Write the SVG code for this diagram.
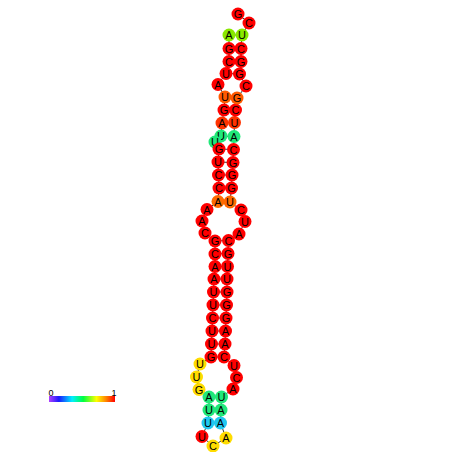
<svg xmlns="http://www.w3.org/2000/svg" width="452" height="452" viewBox="0 0 452 452">
<style>
.b{fill:none;stroke:#000;stroke-width:0.8}
.p{stroke:#000;stroke-width:0.8}
circle{r:6.5}
.r{fill:#ff0000}.o{fill:#ff5a00}.or{fill:#ff3300}.og{fill:#ff6a00}.l{fill:#8ae800}.g{fill:#20e87a}.c{fill:#20c8f0}.y{fill:#ffdc00}
text{font-family:"Liberation Sans",Arial,sans-serif;font-size:11px;text-anchor:middle;fill:#000}
.lg{font-size:9px}
</style>
<defs>
<linearGradient id="grad" x1="0" y1="0" x2="1" y2="0">
<stop offset="0" stop-color="#b040ff"/>
<stop offset="0.15" stop-color="#1a1aff"/>
<stop offset="0.35" stop-color="#00eeff"/>
<stop offset="0.52" stop-color="#00ff40"/>
<stop offset="0.72" stop-color="#ffff00"/>
<stop offset="0.86" stop-color="#ff8800"/>
<stop offset="1" stop-color="#ff0000"/>
</linearGradient>
</defs>
<rect width="452" height="452" fill="#fff"/>
<g id="connectors">
<polyline class="b" points="229,35 229,48.5 229,61.5 226,73.5 218,84.5 225,97 224,110 222,123 221,136 215,142 219,149 218,162 218.5,175 219,188 218,201.5 207,209.5 202,221 205,233 215,241 215,254 215,266.5 214,279 213.5,292 213,305 212.5,318 212,331 211.5,344 211,357 200,364 196.5,377 199,389.5 209,397 209,410 208,423 202,436.5 213,446 226,438 220.5,423 221,410 221.5,397 233,389 236.5,377.5 234,365.5 224,357 225,344 225.5,331 226,318 226.5,305 227,292 227,279 227.5,266.5 228,253.5 228.5,240.5 239,234 245,221.5 241,210 230,202 231.5,188 232,175 233,162.5 233.5,149.5 234,136.5 234.5,122.5 235.5,110 237,98 246,86 239.5,74 241,61.5 241,48.5 242,35 249,23 238,14"/>
<path class="p" d="M229,35H242M229,48.5H241M229,61.5H241M226,73.5L239.5,74M225,97L237,98M224,110L235.5,110M222,123L234.5,122.5M221,136L234,136.5M219,149L233.5,149.5M218,162L233,162.5M218.5,175L232,175M219,188L231.5,188M218,201.5L230,202M215,241L228.5,240.5M215,254L228,253.5M215,266.5L227.5,266.5M214,279L227,279M213.5,292L227,292M213,305L226.5,305M212.5,318L226,318M212,331L225.5,331M211.5,344L225,344M211,357L224,357M209,397L221.5,397M209,410L221,410M208,423L220.5,423"/>
</g>
<g id="n1"><circle class="l" cx="229" cy="35"/><text x="229" y="39">A</text></g>
<g id="n2"><circle class="r" cx="229" cy="48.5"/><text x="229" y="52.5">G</text></g>
<g id="n3"><circle class="r" cx="229" cy="61.5"/><text x="229" y="65.5">C</text></g>
<g id="n4"><circle class="r" cx="226" cy="73.5"/><text x="226" y="77.5">U</text></g>
<g id="n5"><circle class="r" cx="218" cy="84.5"/><text x="218" y="88.5">A</text></g>
<g id="n6"><circle class="o" cx="225" cy="97"/><text x="225" y="101">U</text></g>
<g id="n7"><circle class="r" cx="224" cy="110"/><text x="224" y="114">G</text></g>
<g id="n8"><circle class="or" cx="222" cy="123"/><text x="222" y="127">A</text></g>
<g id="n9"><circle class="g" cx="221" cy="136"/><text x="221" y="140">U</text></g>
<g id="n10"><circle class="g" cx="215" cy="142"/><text x="215" y="146">U</text></g>
<g id="n11"><circle class="r" cx="219" cy="149"/><text x="219" y="153">G</text></g>
<g id="n12"><circle class="r" cx="218" cy="162"/><text x="218" y="166">U</text></g>
<g id="n13"><circle class="r" cx="218.5" cy="175"/><text x="218.5" y="179">C</text></g>
<g id="n14"><circle class="r" cx="219" cy="188"/><text x="219" y="192">C</text></g>
<g id="n15"><circle class="og" cx="218" cy="201.5"/><text x="218" y="205.5">A</text></g>
<g id="n16"><circle class="r" cx="207" cy="209.5"/><text x="207" y="213.5">A</text></g>
<g id="n17"><circle class="r" cx="202" cy="221"/><text x="202" y="225">A</text></g>
<g id="n18"><circle class="r" cx="205" cy="233"/><text x="205" y="237">C</text></g>
<g id="n19"><circle class="r" cx="215" cy="241"/><text x="215" y="245">G</text></g>
<g id="n20"><circle class="r" cx="215" cy="254"/><text x="215" y="258">C</text></g>
<g id="n21"><circle class="r" cx="215" cy="266.5"/><text x="215" y="270.5">A</text></g>
<g id="n22"><circle class="r" cx="214" cy="279"/><text x="214" y="283">A</text></g>
<g id="n23"><circle class="r" cx="213.5" cy="292"/><text x="213.5" y="296">U</text></g>
<g id="n24"><circle class="r" cx="213" cy="305"/><text x="213" y="309">U</text></g>
<g id="n25"><circle class="r" cx="212.5" cy="318"/><text x="212.5" y="322">C</text></g>
<g id="n26"><circle class="r" cx="212" cy="331"/><text x="212" y="335">U</text></g>
<g id="n27"><circle class="r" cx="211.5" cy="344"/><text x="211.5" y="348">U</text></g>
<g id="n28"><circle class="r" cx="211" cy="357"/><text x="211" y="361">G</text></g>
<g id="n29"><circle class="y" cx="200" cy="364"/><text x="200" y="368">U</text></g>
<g id="n30"><circle class="y" cx="196.5" cy="377"/><text x="196.5" y="381">U</text></g>
<g id="n31"><circle class="y" cx="199" cy="389.5"/><text x="199" y="393.5">G</text></g>
<g id="n32"><circle class="g" cx="209" cy="397"/><text x="209" y="401">A</text></g>
<g id="n33"><circle class="g" cx="209" cy="410"/><text x="209" y="414">U</text></g>
<g id="n34"><circle class="c" cx="208" cy="423"/><text x="208" y="427">U</text></g>
<g id="n35"><circle class="r" cx="202" cy="436.5"/><text x="202" y="440.5">U</text></g>
<g id="n36"><circle class="y" cx="213" cy="446"/><text x="213" y="450">C</text></g>
<g id="n37"><circle class="y" cx="226" cy="438"/><text x="226" y="442">A</text></g>
<g id="n38"><circle class="c" cx="220.5" cy="423"/><text x="220.5" y="427">A</text></g>
<g id="n39"><circle class="g" cx="221" cy="410"/><text x="221" y="414">A</text></g>
<g id="n40"><circle class="g" cx="221.5" cy="397"/><text x="221.5" y="401">U</text></g>
<g id="n41"><circle class="r" cx="233" cy="389"/><text x="233" y="393">A</text></g>
<g id="n42"><circle class="r" cx="236.5" cy="377.5"/><text x="236.5" y="381.5">C</text></g>
<g id="n43"><circle class="r" cx="234" cy="365.5"/><text x="234" y="369.5">U</text></g>
<g id="n44"><circle class="r" cx="224" cy="357"/><text x="224" y="361">C</text></g>
<g id="n45"><circle class="r" cx="225" cy="344"/><text x="225" y="348">A</text></g>
<g id="n46"><circle class="r" cx="225.5" cy="331"/><text x="225.5" y="335">A</text></g>
<g id="n47"><circle class="r" cx="226" cy="318"/><text x="226" y="322">G</text></g>
<g id="n48"><circle class="r" cx="226.5" cy="305"/><text x="226.5" y="309">G</text></g>
<g id="n49"><circle class="r" cx="227" cy="292"/><text x="227" y="296">G</text></g>
<g id="n50"><circle class="r" cx="227" cy="279"/><text x="227" y="283">U</text></g>
<g id="n51"><circle class="r" cx="227.5" cy="266.5"/><text x="227.5" y="270.5">U</text></g>
<g id="n52"><circle class="r" cx="228" cy="253.5"/><text x="228" y="257.5">G</text></g>
<g id="n53"><circle class="r" cx="228.5" cy="240.5"/><text x="228.5" y="244.5">C</text></g>
<g id="n54"><circle class="r" cx="239" cy="234"/><text x="239" y="238">A</text></g>
<g id="n55"><circle class="r" cx="245" cy="221.5"/><text x="245" y="225.5">U</text></g>
<g id="n56"><circle class="r" cx="241" cy="210"/><text x="241" y="214">C</text></g>
<g id="n57"><circle class="og" cx="230" cy="202"/><text x="230" y="206">U</text></g>
<g id="n58"><circle class="r" cx="231.5" cy="188"/><text x="231.5" y="192">G</text></g>
<g id="n59"><circle class="r" cx="232" cy="175"/><text x="232" y="179">G</text></g>
<g id="n60"><circle class="r" cx="233" cy="162.5"/><text x="233" y="166.5">G</text></g>
<g id="n61"><circle class="r" cx="233.5" cy="149.5"/><text x="233.5" y="153.5">C</text></g>
<g id="n62"><circle class="g" cx="234" cy="136.5"/><text x="234" y="140.5">A</text></g>
<g id="n63"><circle class="or" cx="234.5" cy="122.5"/><text x="234.5" y="126.5">U</text></g>
<g id="n64"><circle class="r" cx="235.5" cy="110"/><text x="235.5" y="114">C</text></g>
<g id="n65"><circle class="o" cx="237" cy="98"/><text x="237" y="102">G</text></g>
<g id="n66"><circle class="r" cx="246" cy="86"/><text x="246" y="90">C</text></g>
<g id="n67"><circle class="r" cx="239.5" cy="74"/><text x="239.5" y="78">G</text></g>
<g id="n68"><circle class="r" cx="241" cy="61.5"/><text x="241" y="65.5">G</text></g>
<g id="n69"><circle class="r" cx="241" cy="48.5"/><text x="241" y="52.5">C</text></g>
<g id="n70"><circle class="l" cx="242" cy="35"/><text x="242" y="39">U</text></g>
<g id="n71"><circle class="r" cx="249" cy="23"/><text x="249" y="27">C</text></g>
<g id="n72"><circle class="r" cx="238" cy="14"/><text x="238" y="18">G</text></g>
<g id="legend">
<rect x="49" y="396" width="66" height="6" fill="url(#grad)"/>
<text class="lg" x="51" y="396">0</text>
<text class="lg" x="114" y="396">1</text>
</g>
</svg>
